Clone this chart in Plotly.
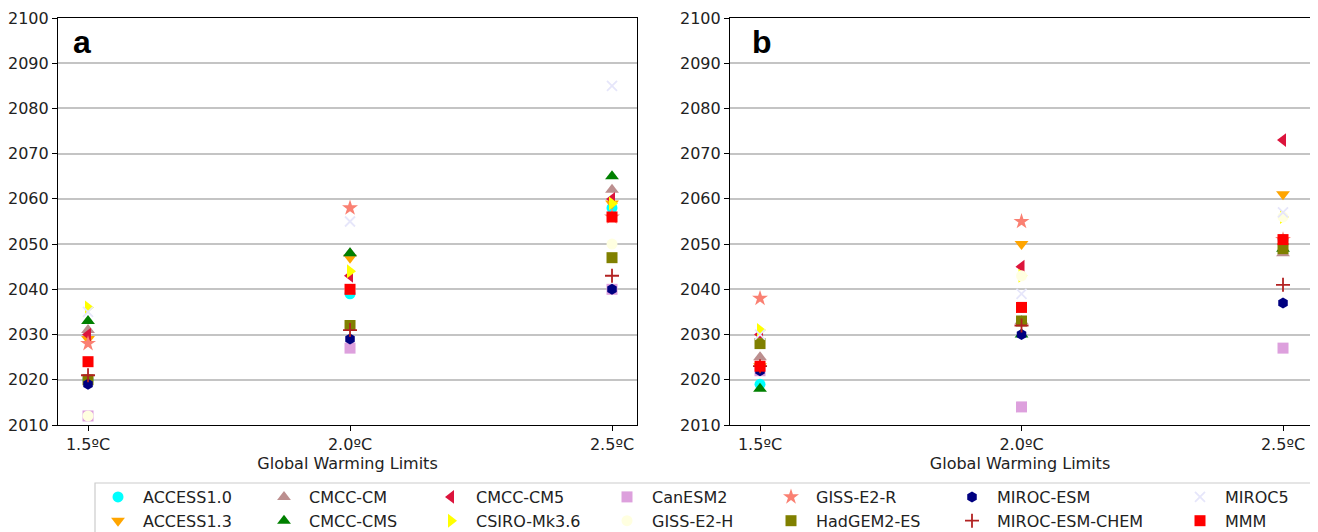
import plotly.graph_objects as go

# The page body has an 8px margin, so the figure is drawn 8px in from the window corner.
OFF = 8
W, H = 1318 - OFF, 532 - OFF

def px(x):
    return (x - OFF) / W

def py(y):
    return 1 - (y - OFF) / H

warming_levels = [1.5, 2.0, 2.5]
tick_labels = ["1.5ºC", "2.0ºC", "2.5ºC"]
year_ticks = list(range(2010, 2101, 10))

models = ["ACCESS1.0", "ACCESS1.3", "CMCC-CM", "CMCC-CMS", "CMCC-CM5", "CSIRO-Mk3.6",
          "CanESM2", "GISS-E2-H", "GISS-E2-R", "HadGEM2-ES", "MIROC-ESM",
          "MIROC-ESM-CHEM", "MIROC5", "MMM"]

# Year of crossing each warming level, panel a
panel_a = {
    "ACCESS1.0":      [2020, 2039, 2058],
    "ACCESS1.3":      [2029, 2047, 2059],
    "CMCC-CM":        [2031, 2048, 2062],
    "CMCC-CMS":       [2033, 2048, 2065],
    "CMCC-CM5":       [2030, 2043, 2060],
    "CSIRO-Mk3.6":    [2036, 2044, 2059],
    "CanESM2":        [2012, 2027, 2040],
    "GISS-E2-H":      [2012, 2040, 2050],
    "GISS-E2-R":      [2028, 2058, 2056],
    "HadGEM2-ES":     [2020, 2032, 2047],
    "MIROC-ESM":      [2019, 2029, 2040],
    "MIROC-ESM-CHEM": [2021, 2031, 2043],
    "MIROC5":         [2035, 2055, 2085],
    "MMM":            [2024, 2040, 2056],
}

# Year of crossing each warming level, panel b
panel_b = {
    "ACCESS1.0":      [2019, 2036, 2051],
    "ACCESS1.3":      [2023, 2050, 2061],
    "CMCC-CM":        [2025, 2033, 2048],
    "CMCC-CMS":       [2018, 2030, 2049],
    "CMCC-CM5":       [2030, 2045, 2073],
    "CSIRO-Mk3.6":    [2031, 2043, 2056],
    "CanESM2":        [2022, 2014, 2027],
    "GISS-E2-H":      [2028, 2043, 2056],
    "GISS-E2-R":      [2038, 2055, 2051],
    "HadGEM2-ES":     [2028, 2033, 2049],
    "MIROC-ESM":      [2022, 2030, 2037],
    "MIROC-ESM-CHEM": [2023, 2032, 2041],
    "MIROC5":         [2030, 2039, 2057],
    "MMM":            [2023, 2036, 2051],
}

styles = {
    "ACCESS1.0":      ("circle", "#00FFFF"),
    "ACCESS1.3":      ("triangle-down", "#FFA500"),
    "CMCC-CM":        ("triangle-up", "#BC8F8F"),
    "CMCC-CMS":       ("triangle-up", "#008000"),
    "CMCC-CM5":       ("triangle-left", "#DC143C"),
    "CSIRO-Mk3.6":    ("triangle-right", "#FFFF00"),
    "CanESM2":        ("square", "#DDA0DD"),
    "GISS-E2-H":      ("circle", "#FFFFE0"),
    "GISS-E2-R":      ("star", "#FA8072"),
    "HadGEM2-ES":     ("square", "#808000"),
    "MIROC-ESM":      ("hexagon", "#000080"),
    "MIROC-ESM-CHEM": ("cross-thin", "#B22222"),
    "MIROC5":         ("x-thin", "#E6E6FA"),
    "MMM":            ("square", "#FF0000"),
}

# legend column (1..7), matplotlib column-major order
legend_cols = {m: i // 2 + 1 for i, m in enumerate(models)}
legend_text_x = [143, 309, 476, 652, 816, 997, 1225]

FONT = "DejaVu Sans"
TXT = "#222222"

fig = go.Figure()

def add_panel(data, xa, ya, show):
    for m in models:
        sym, col = styles[m]
        marker = dict(symbol=sym, color=col, size=11, line=dict(width=0))
        if sym in ("cross-thin", "x-thin"):
            marker = dict(symbol=sym, size=10, line=dict(color=col, width=1.8), color=col)
        if sym == "star":
            marker["size"] = 12
        if sym.startswith("triangle"):
            marker["size"] = 12
        lg = legend_cols[m]
        fig.add_trace(go.Scatter(
            x=warming_levels, y=data[m], mode="markers", name=m,
            marker=marker, xaxis=xa, yaxis=ya, showlegend=show,
            legend="legend" if lg == 1 else f"legend{lg}",
        ))

add_panel(panel_a, "x", "y", True)
add_panel(panel_b, "x2", "y2", False)

ydom = [py(425), py(18)]
axis_common = dict(showline=True, linecolor="black", linewidth=1.2, mirror=True,
                   ticks="outside", ticklen=5, tickcolor="black", automargin=False,
                   tickfont=dict(family=FONT, size=16, color=TXT))
xcommon = dict(axis_common, tickvals=warming_levels, ticktext=tick_labels,
               showgrid=False, zeroline=False,
               title=dict(text="Global Warming Limits", font=dict(family=FONT, size=16, color=TXT), standoff=4))
ycommon = dict(axis_common, range=[2010, 2100], tickvals=year_ticks,
               showgrid=True, gridcolor="#c4c4c4", gridwidth=1.5, zeroline=False)

fig.update_layout(
    width=W, height=H,
    margin=dict(l=0, r=0, t=0, b=0, autoexpand=False),
    plot_bgcolor="white", paper_bgcolor="white",
    xaxis=dict(xcommon, domain=[px(58), px(637)], range=[1.4427, 2.5477], anchor="y"),
    yaxis=dict(ycommon, domain=ydom, anchor="x"),
    xaxis2=dict(xcommon, domain=[px(730), px(1310)], range=[1.4426, 2.5516], anchor="y2"),
    yaxis2=dict(ycommon, domain=ydom, anchor="x2"),
)

for k in range(1, 8):
    key = "legend" if k == 1 else f"legend{k}"
    fig.layout[key] = dict(
        x=px(legend_text_x[k - 1] - 50), xanchor="left",
        y=py(480), yanchor="top",
        bgcolor="rgba(0,0,0,0)", borderwidth=0,
        font=dict(family=FONT, size=16, color=TXT),
        orientation="v", tracegroupgap=0, itemwidth=40,
    )

# legend frame
fig.add_shape(type="rect", xref="paper", yref="paper",
              x0=px(95), x1=px(1313), y0=-0.2, y1=py(483),
              line=dict(color="#cccccc", width=1.2), fillcolor="rgba(0,0,0,0)", layer="below")

for lab, xp in (("a", 82), ("b", 762)):
    fig.add_annotation(text=f"<b>{lab}</b>", xref="paper", yref="paper",
                       x=px(xp), y=py(42), xanchor="center", yanchor="middle",
                       showarrow=False, font=dict(family="Liberation Sans", size=32, color="black"))

fig.write_html("out.html")
